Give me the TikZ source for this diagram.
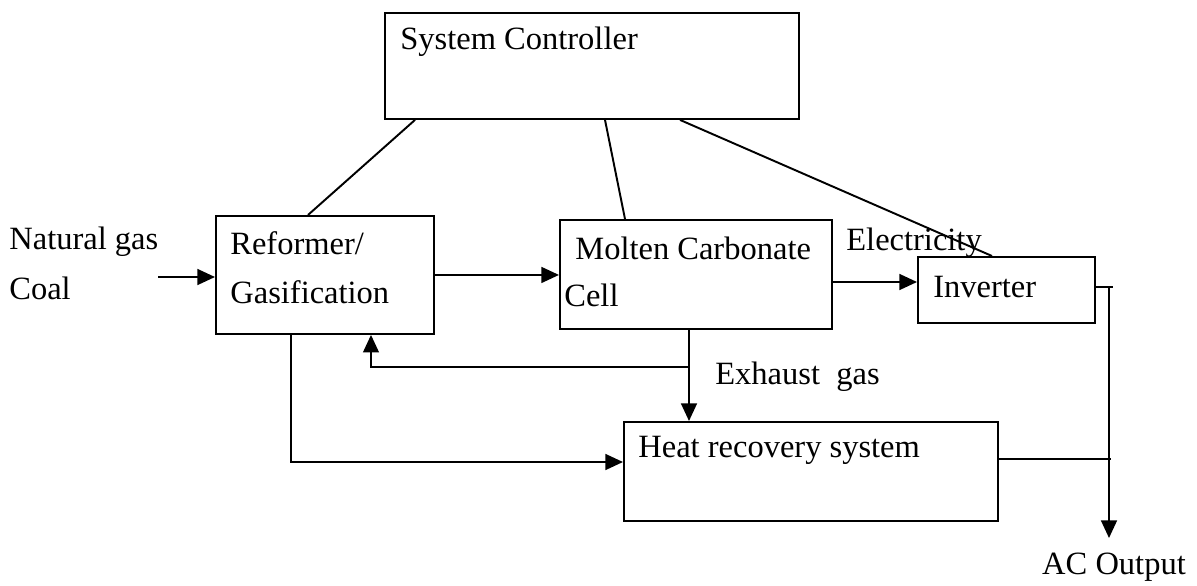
\documentclass[tikz,border=0pt]{standalone}
\usepackage{fontspec}
\setmainfont{Liberation Serif}
\usetikzlibrary{arrows.meta,calc,positioning}

\begin{document}
\begin{tikzpicture}[x=0.02cm,y=-0.02cm,>={Triangle[length=10pt,width=9pt]},
  every node/.style={font=\fontsize{18.5}{22}\selectfont},
  block/.style={draw,line width=1.1pt,inner sep=0pt,anchor=north west},
  tag/.style={inner sep=0pt,anchor=west},
  link/.style={line width=1.1pt},
  flow/.style={link,->}]

\useasboundingbox (0,0) rectangle (1197,585);

\node[block,minimum width=8.28cm,minimum height=2.12cm] (ctrl) at (384,12) {};
\node[block,minimum width=4.36cm,minimum height=2.36cm] (ref) at (215,215) {};
\node[block,minimum width=5.44cm,minimum height=2.18cm] (mcc) at (559,219) {};
\node[block,minimum width=3.54cm,minimum height=1.32cm] (inv) at (917,256) {};
\node[block,minimum width=7.48cm,minimum height=1.98cm] (heat) at (623,421) {};

\node[tag] (ctrltxt) at (400,42) {System Controller};
\node[tag] (reftxt1) at (230,243) {Reformer/};
\node[tag] (reftxt2) at (230,292) {Gasification};
\node[tag] (mcctxt1) at (575,248) {Molten Carbonate};
\node[tag] (mcctxt2) at (564,295) {Cell};
\node[tag] (invtxt) at (933,287) {Inverter};
\node[tag] (heattxt) at (638,450) {Heat recovery system};

\node[tag] (gas) at (9,242) {Natural gas};
\node[tag] (coal) at (9,288) {Coal};
\node[tag] (elec) at (846,243) {Electricity};
\node[tag] (exh) at (715,377) {Exhaust\ \ gas};

\coordinate (in) at (158,277);
\coordinate (toinv) at ($(inv.north west)+(0,26)$);
\coordinate (invout) at ($(inv.north east)+(0,31)$);
\coordinate (tap) at (1109,287);
\coordinate (acend) at (1109,538);
\coordinate (heatout) at ($(heat.north east)+(0,38)$);
\coordinate (exdown) at ($(mcc.south west)+(130,0)$);
\coordinate (br) at (exdown |- 0,367);
\coordinate (back) at ($(ref.south west)+(156,0)$);
\coordinate (refdown) at ($(ref.south west)+(76,0)$);
\coordinate (toheat) at ($(heat.north west)+(0,41)$);

\node[inner sep=0pt] (ac) at (1114,567) {AC Output};

\draw[link] ($(ctrl.south west)+(31,0)$) -- ($(ref.north west)+(93,0)$);
\draw[link] ($(ctrl.south west)+(221,0)$) -- ($(mcc.north west)+(66,0)$);
\draw[link] ($(ctrl.south west)+(296,0)$) -- ($(inv.north west)+(75,0)$);

\draw[flow] (in) -- (in -| ref.west);
\draw[flow] (ref.east) -- (ref.east -| mcc.west);
\draw[flow] (mcc.east |- toinv) -- (toinv);
\draw[link] (invout) -- (invout -| 1113,0);
\draw[flow] (tap) -- (acend);
\draw[link] (heatout) -- (heatout -| 1111,0);
\draw[flow] (exdown) -- (exdown |- heat.north);
\draw[flow] (br) -| (back);
\draw[flow] (refdown) |- (toheat);
\end{tikzpicture}
\end{document}
